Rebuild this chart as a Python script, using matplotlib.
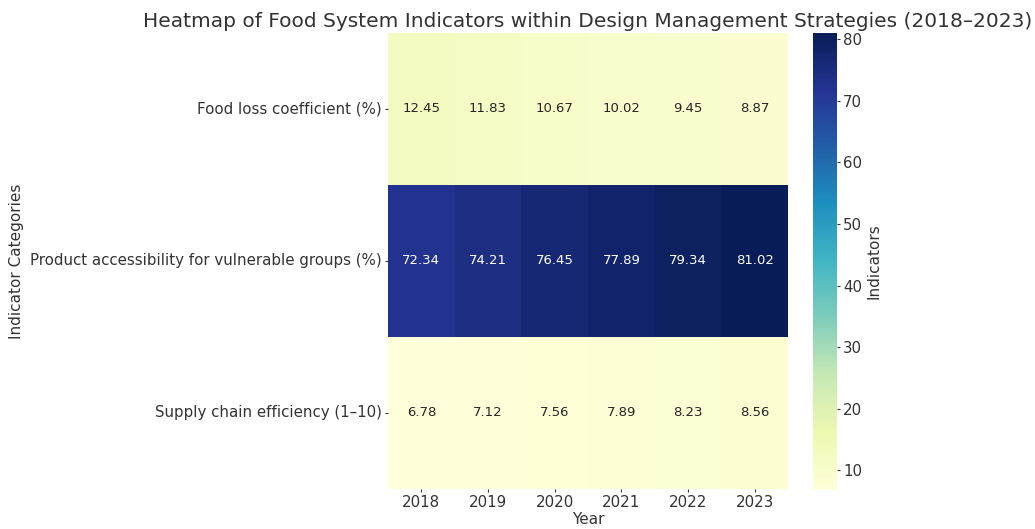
import matplotlib
matplotlib.use("Agg")
import matplotlib.pyplot as plt
import seaborn as sns
import numpy as np
import pandas as pd

years = ["2018", "2019", "2020", "2021", "2022", "2023"]
categories = ["Food loss coefficient (%)",
              "Product accessibility for vulnerable groups (%)",
              "Supply chain efficiency (1–10)"]
food_loss = [12.45, 11.83, 10.67, 10.02, 9.45, 8.87]
accessibility = [72.34, 74.21, 76.45, 77.89, 79.34, 81.02]
supply_chain = [6.78, 7.12, 7.56, 7.89, 8.23, 8.56]

df = pd.DataFrame([food_loss, accessibility, supply_chain], index=categories, columns=years)

txt = "#333333"
plt.rcParams["text.color"] = txt
plt.rcParams["axes.labelcolor"] = txt
plt.rcParams["xtick.color"] = txt
plt.rcParams["ytick.color"] = txt

fig = plt.figure(figsize=(10.35, 5.29), dpi=100)
ax = fig.add_axes([388/1035, 1-489/529, 400/1035, 456/529])
cax = fig.add_axes([813/1035, 1-490/529, 24/1035, 457/529])

sns.heatmap(df, ax=ax, cbar_ax=cax, cmap="YlGnBu", annot=True, fmt=".2f",
            annot_kws={"fontsize": 9.5}, cbar_kws={"label": "Indicators"})

ax.set_title("Heatmap of Food System Indicators within Design Management Strategies (2018–2023)",
             fontsize=14.5, color=txt, pad=4)
ax.set_xlabel("Year", fontsize=11, labelpad=1)
ax.set_ylabel("Indicator Categories", fontsize=11, labelpad=4)
ax.tick_params(axis="both", labelsize=10.8, length=2.5, pad=2, width=0.8)
plt.setp(ax.get_yticklabels(), rotation=0)
plt.setp(ax.get_xticklabels(), rotation=0)
cax.tick_params(labelsize=10.8, length=2.5, pad=2, width=0.8)
cax.yaxis.label.set_size(11)
cax.yaxis.labelpad = 3

fig.savefig("out.png", dpi=100)
